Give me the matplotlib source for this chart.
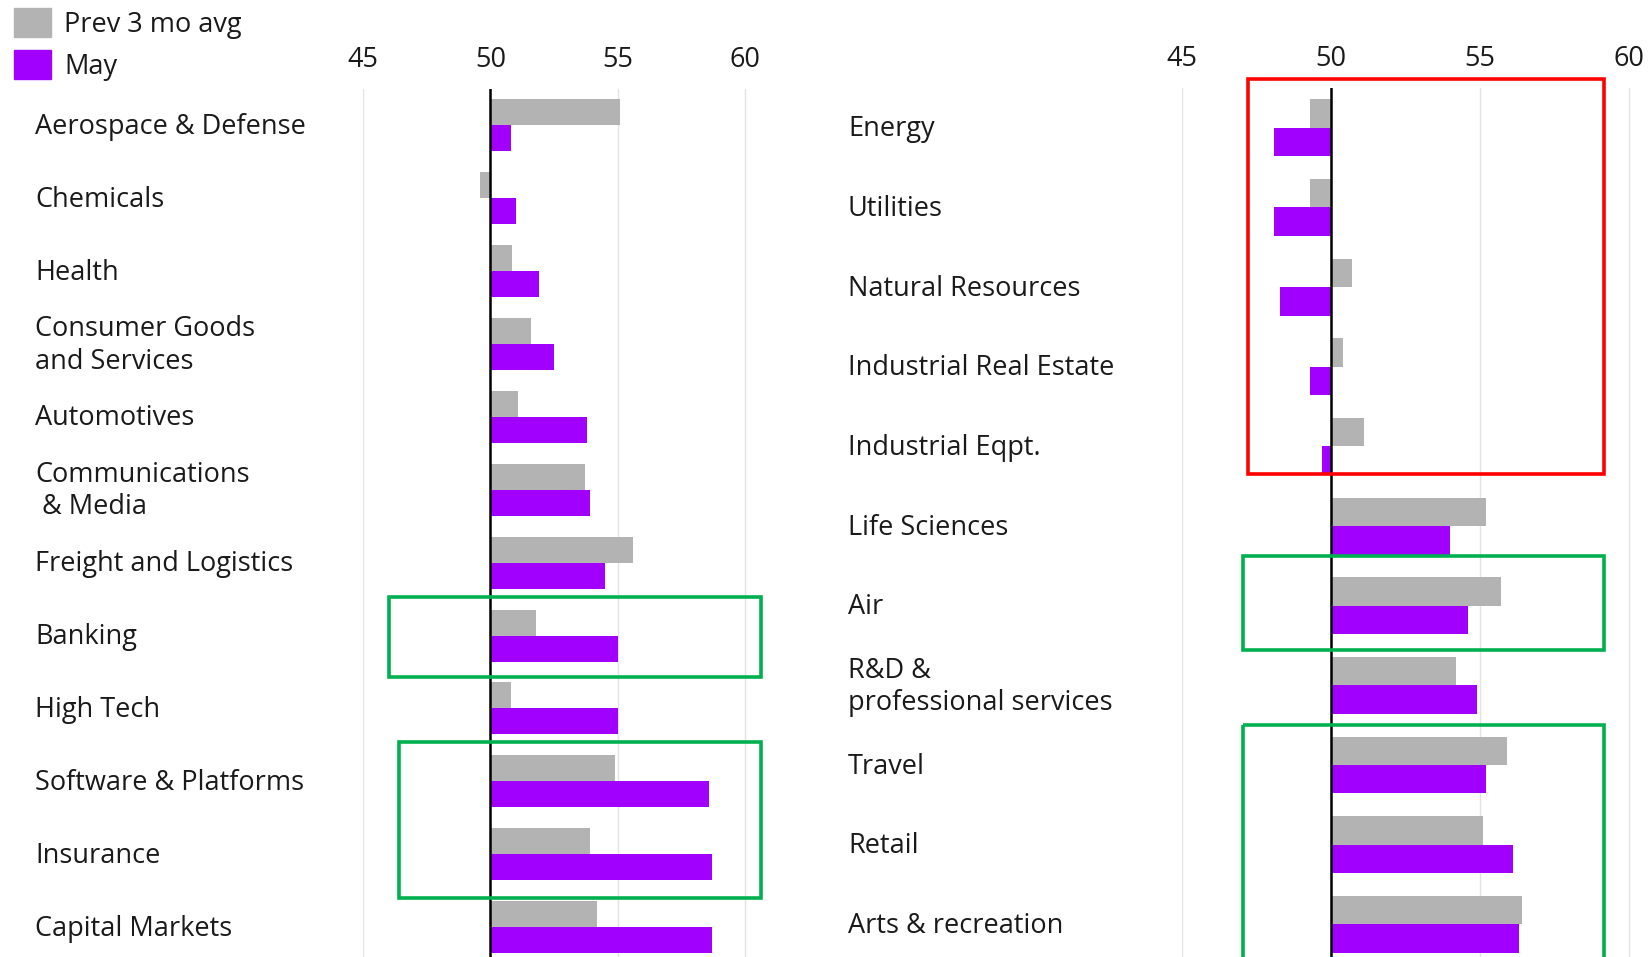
import matplotlib
matplotlib.use('Agg')
from matplotlib import pyplot as plt
from matplotlib.patches import Rectangle
import matplotlib.transforms as mtransforms
import numpy as np

plt.rcParams['font.family'] = ['Open Sans', 'DejaVu Sans']

left_cats = ['Aerospace & Defense', 'Chemicals', 'Health', 'Consumer Goods\nand Services',
             'Automotives', 'Communications\n & Media', 'Freight and Logistics', 'Banking',
             'High Tech', 'Software & Platforms', 'Insurance', 'Capital Markets']
left_prev = [55.1, 49.6, 50.85, 51.6, 51.1, 53.7, 55.6, 51.8, 50.8, 54.9, 53.9, 54.2]
left_may = [50.8, 51.0, 51.9, 52.5, 53.8, 53.9, 54.5, 55.0, 55.0, 58.6, 58.7, 58.7]

right_cats = ['Energy', 'Utilities', 'Natural Resources', 'Industrial Real Estate',
              'Industrial Eqpt.', 'Life Sciences', 'Air', 'R&D &\nprofessional services',
              'Travel', 'Retail', 'Arts & recreation']
right_prev = [49.3, 49.3, 50.7, 50.4, 51.1, 55.2, 55.7, 54.2, 55.9, 55.1, 56.4]
right_may = [48.1, 48.1, 48.3, 49.3, 49.7, 54.0, 54.6, 54.9, 55.2, 56.1, 56.3]

ticks = [45, 50, 55, 60]
legend_labels = ['Prev 3 mo avg', 'May']

GRAY = '#b3b3b3'
PURPLE = '#a100ff'
RED = '#ff0000'
GREEN = '#00b050'
TXT = '#1a1a1a'
FS = 19.5

W, H = 1652, 957
fig = plt.figure(figsize=(W / 100, H / 100), dpi=100)


def panel(ax, cats, prev, may, xmax, label_x):
    n = len(cats)
    y = np.arange(n)
    h = 0.357
    ax.barh(y - h / 2, np.array(prev) - 50, height=h, left=50, color=GRAY, zorder=2)
    ax.barh(y + h / 2, np.array(may) - 50, height=h, left=50, color=PURPLE, zorder=2)
    ax.set_xlim(45, xmax)
    ax.set_ylim(n - 0.59, -0.5)
    ax.set_xticks(ticks)
    ax.xaxis.tick_top()
    ax.tick_params(axis='x', length=0, pad=11, labelsize=FS, labelcolor=TXT)
    ax.set_yticks([])
    ax.grid(axis='x', color='#e3e3e3', linewidth=1, zorder=0)
    ax.axvline(50, color='black', linewidth=1.8, zorder=3)
    for s in ax.spines.values():
        s.set_visible(False)
    tr = mtransforms.blended_transform_factory(fig.transFigure, ax.transData)
    for i, c in enumerate(cats):
        ax.text(label_x / W, i + 0.02, c, transform=tr, ha='left', va='center',
                fontsize=FS, color=TXT, linespacing=1.2)


def box(ax, x0, x1, y0, y1, color):
    ax.add_patch(Rectangle((x0, y0), x1 - x0, y1 - y0, fill=False, edgecolor=color,
                           linewidth=2.6, clip_on=False, zorder=4))


ax1 = fig.add_axes([363 / W, 0, 25.47 * 16 / W, 1 - 89 / H])
panel(ax1, left_cats, left_prev, left_may, 61, 35)
box(ax1, 46.04, 60.63, 6.47, 7.57, GREEN)
box(ax1, 46.43, 60.63, 8.46, 10.6, GREEN)

ax2 = fig.add_axes([1182 / W, 0, 29.8 * 15.8 / W, 1 - 88 / H])
panel(ax2, right_cats, right_prev, right_may, 60.8, 848)
box(ax2, 47.2, 59.16, -0.61, 4.34, RED)
box(ax2, 47.05, 59.16, 5.37, 6.55, GREEN)
box(ax2, 47.05, 59.16, 7.5, 10.6, GREEN)

# legend
for k, (lab, col) in enumerate(zip(legend_labels, [GRAY, PURPLE])):
    top = 8 + k * 42
    fig.add_artist(Rectangle((14 / W, 1 - (top + 29) / H), 37 / W, 29 / H,
                             transform=fig.transFigure, color=col))
    fig.text(64 / W, 1 - (top + 17) / H, lab, ha='left', va='center',
             fontsize=FS, color=TXT)

plt.savefig('out.png', dpi=100)
